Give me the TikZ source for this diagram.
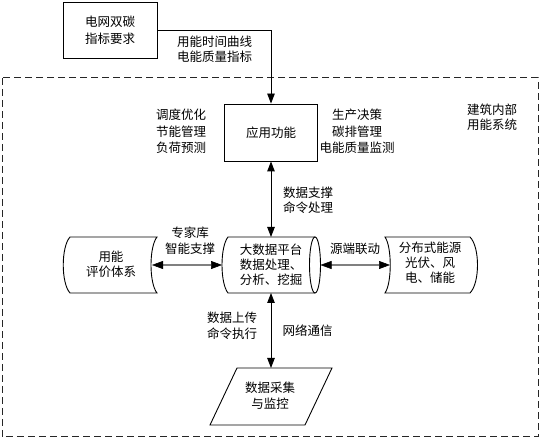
\documentclass[tikz,border=0pt]{standalone}
\usepackage{fontspec}
\setmainfont{Noto Sans CJK SC}
\usetikzlibrary{arrows.meta}
\begin{document}
\begin{tikzpicture}[x=1pt,y=-1pt,
  txt/.style={font=\fontsize{12.5}{16}\selectfont, align=center, inner sep=0pt},
  box/.style={draw, line width=0.9pt},
  shp/.style={draw, line width=0.9pt},
  tipv/.style={-{Triangle[length=10pt,width=7.5pt]}},
  dbl/.style={{Triangle[length=10pt,width=7.5pt]}-{Triangle[length=10pt,width=7.5pt]}, line width=0.9pt},
  gdbl/.style={{Triangle[length=11pt,width=8pt,color=black,line width=0.5pt]}-{Triangle[length=11pt,width=8pt,color=black,line width=0.5pt]}, draw=black!50, line width=2.2pt},
  frame/.style={draw=black!85, line width=1pt, dash pattern=on 7pt off 4pt}
]
\useasboundingbox (0,0) rectangle (542,446);

% dashed frame
\draw[frame] (2,78) rectangle (538,437);

% top requirement box
\node[box, txt, font=\fontsize{12.5}{17}\selectfont, minimum width=94pt, minimum height=56pt] (req) at (110,30) {电网双碳\\指标要求};

% application box
\node[box, txt, minimum width=93pt, minimum height=57pt] (app) at (271,132.5) {应用功能};

% labels
\node[txt, align=left, anchor=west, font=\fontsize{12.5}{14.5}\selectfont] (lcurve) at (177,49) {用能时间曲线\\电能质量指标};
\node[txt, align=left, anchor=west, font=\fontsize{12.5}{16.5}\selectfont] (lleft) at (156,131.5) {调度优化\\节能管理\\负荷预测};
\node[txt, font=\fontsize{12.5}{16.5}\selectfont] (lright) at (357,131.5) {生产决策\\碳排管理\\电能质量监测};
\node[txt, font=\fontsize{12.5}{15}\selectfont] (lsys) at (492,117.5) {建筑内部\\用能系统};
\node[txt, font=\fontsize{12.5}{15}\selectfont] (lsup) at (308,200.5) {数据支撑\\命令处理};
\node[txt, font=\fontsize{12.5}{16}\selectfont] (lexp) at (190,241) {专家库\\智能支撑};
\node[txt] (llink) at (355,249) {源端联动};
\node[txt, font=\fontsize{12.5}{16}\selectfont] (lup) at (232,326) {数据上传\\命令执行};
\node[txt] (lnet) at (307.5,331) {网络通信};

% evaluation system (stored data shape)
\draw[shp] (70,237) -- (157,237) .. controls (149,247) and (149,283) .. (157,293)
  -- (70,293) .. controls (61,283) and (61,247) .. (70,237) -- cycle;
\node[txt, font=\fontsize{12.5}{15}\selectfont] (eval) at (111,264.5) {用能\\评价体系};
\coordinate (evalR) at (152,265);

% big data platform (horizontal cylinder)
\draw[shp] (315,237) -- (228,237) .. controls (220,247) and (220,283) .. (228,293) -- (315,293);
\draw[shp] (315,265) ellipse [x radius=5.5pt, y radius=28pt];
\node[txt, font=\fontsize{12.5}{15}\selectfont] (bd) at (271,265) {大数据平台\\数据处理、\\分析、挖掘};
\coordinate (bdL) at (222,265);
\coordinate (bdR) at (320.5,265);
\coordinate (bdT) at (271,237);
\coordinate (bdB) at (271,293);

% distributed energy
\draw[shp] (385,237) -- (470,237) .. controls (480,247) and (480,283) .. (470,293)
  -- (385,293) .. controls (392,283) and (392,247) .. (385,237) -- cycle;
\node[txt, font=\fontsize{12.5}{15}\selectfont] (dist) at (430,263) {分布式能源\\光伏、风\\电、储能};
\coordinate (distL) at (390,265);

% data acquisition (parallelogram)
\draw[shp] (237,368) -- (332,368) -- (305,425) -- (210,425) -- cycle;
\node[txt, font=\fontsize{12.5}{16}\selectfont] (acq) at (270,396) {数据采集\\与监控};
\coordinate (acqT) at (271,368);

% connectors
\draw[line width=0.9pt, tipv] (req.east) -| (app.north);
\draw[dbl] (app.south) -- (bdT);
\draw[dbl] (bdB) -- (acqT);
\draw[gdbl] (evalR) -- (bdL);
\draw[gdbl] (bdR) -- (distL);
\end{tikzpicture}
\end{document}
